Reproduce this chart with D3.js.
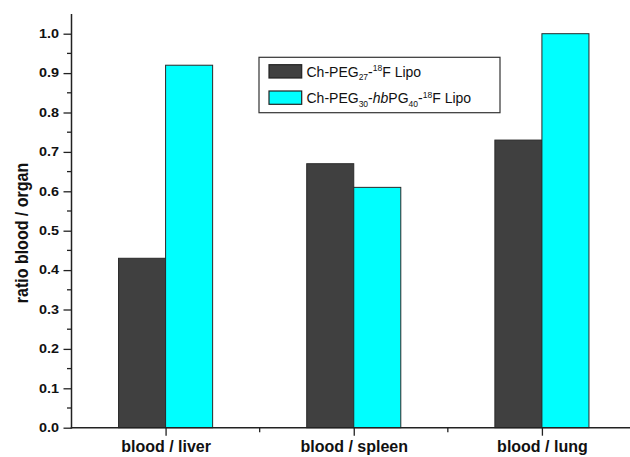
<!DOCTYPE html>
<html>
<head>
<meta charset="utf-8">
<script src="https://cdn.jsdelivr.net/npm/d3@7"></script>
<style>
  html, body { margin: 0; padding: 0; background: #fff; }
  svg { display: block; font-family: "Liberation Sans", Arial, sans-serif; }
</style>
</head>
<body>
<svg id="chart" width="630" height="457"></svg>
<script>
// Blood-to-organ ratios for the two liposome formulations
const categories = ["blood / liver", "blood / spleen", "blood / lung"];
const pegValues = [0.43, 0.67, 0.73];
const hbpgValues = [0.92, 0.61, 1.00];
const yTickValues = [0.0, 0.1, 0.2, 0.3, 0.4, 0.5, 0.6, 0.7, 0.8, 0.9, 1.0];
const yMinorValues = d3.range(0.05, 1.05, 0.1);
const xMinorValues = [1.5, 2.5];

const svg = d3.select("#chart");
const left = 71.5, bottom = 427.7;

// Categories sit at 1, 2, 3 on a linear axis from 0.5 to 3.5
const x = d3.scaleLinear().domain([0.5, 3.5]).range([left, 636]);
const y = d3.scaleLinear().domain([0, 1.05]).range([bottom, 14]);
const barW = 0.25;

const axisColor = "#222";
const seriesList = [
  { values: pegValues, fill: "#404040", offset: -barW },
  { values: hbpgValues, fill: "#00ffff", offset: 0 }
];

// Bars
seriesList.forEach(s => {
  svg.append("g").selectAll("rect")
    .data(s.values)
    .join("rect")
    .attr("x", (d, i) => x(i + 1 + s.offset))
    .attr("y", d => y(d))
    .attr("width", x(1 + barW) - x(1))
    .attr("height", d => y(0) - y(d))
    .attr("fill", s.fill)
    .attr("stroke", "#2a2a2a")
    .attr("stroke-width", 1);
});

// Y axis with major and minor ticks
const yAxis = svg.append("g").attr("transform", `translate(${left},0)`);
yAxis.call(d3.axisLeft(y).tickValues(yTickValues).tickSize(8).tickSizeOuter(0).tickFormat(d3.format(".1f")));
yAxis.select(".domain").remove();
yAxis.append("line").attr("x1", 0).attr("x2", 0).attr("y1", y(1.05)).attr("y2", bottom + 0.75)
  .attr("stroke", axisColor).attr("stroke-width", 1.5);
yAxis.selectAll(".tick line").attr("stroke", axisColor).attr("stroke-width", 1.3);
yAxis.selectAll(".tick text").remove();
yAxis.selectAll(".minor").data(yMinorValues).join("line")
  .attr("class", "minor")
  .attr("x1", 0).attr("x2", -4.5)
  .attr("y1", d => y(d)).attr("y2", d => y(d))
  .attr("stroke", axisColor).attr("stroke-width", 1.3);

// Y tick labels, slightly wide bold face
svg.append("g").selectAll("text")
  .data(yTickValues)
  .join("text")
  .attr("transform", d => `translate(59,${y(d) + 4.3}) scale(1.2,1)`)
  .attr("text-anchor", "end")
  .attr("font-size", 12)
  .attr("font-weight", "bold")
  .attr("fill", "#111")
  .text(d3.format(".1f"));

// X axis with major ticks at categories and minor ticks between them
const xAxis = svg.append("g").attr("transform", `translate(0,${bottom})`);
xAxis.call(d3.axisBottom(x).tickValues([1, 2, 3]).tickSize(8).tickSizeOuter(0).tickFormat((d, i) => categories[i]));
xAxis.select(".domain").remove();
xAxis.append("line").attr("x1", left - 0.75).attr("x2", 636).attr("y1", 0).attr("y2", 0)
  .attr("stroke", axisColor).attr("stroke-width", 1.5);
xAxis.selectAll(".tick line").attr("stroke", axisColor).attr("stroke-width", 1.3);
xAxis.selectAll(".tick text")
  .attr("y", 24.5).attr("dy", 0)
  .attr("font-size", 16).attr("font-weight", "bold").attr("fill", "#111")
  .attr("font-family", "'Liberation Sans', Arial, sans-serif");
xAxis.selectAll(".minor").data(xMinorValues).join("line")
  .attr("class", "minor")
  .attr("x1", d => x(d)).attr("x2", d => x(d))
  .attr("y1", 0).attr("y2", 4.5)
  .attr("stroke", axisColor).attr("stroke-width", 1.3);

// Y axis title
svg.append("text")
  .attr("transform", "translate(28,233) rotate(-90) scale(1,1.15)")
  .attr("text-anchor", "middle")
  .attr("font-size", 16)
  .attr("font-weight", "bold")
  .attr("fill", "#111")
  .text("ratio blood / organ");

// Legend
const legend = svg.append("g");
legend.append("rect")
  .attr("x", 259).attr("y", 57.3).attr("width", 241).attr("height", 55.4)
  .attr("fill", "#fff").attr("stroke", "#333").attr("stroke-width", 1.2);

const legendRows = [
  { fill: "#404040", y: 64.7, parts: [["Ch-PEG", 0], ["27", 1], ["-", 0], ["18", -1], ["F Lipo", 0]] },
  { fill: "#00ffff", y: 91, parts: [["Ch-PEG", 0], ["30", 1], ["-", 0], ["hb", 0, "italic"], ["PG", 0], ["40", 1], ["-", 0], ["18", -1], ["F Lipo", 0]] }
];

legendRows.forEach(row => {
  legend.append("rect")
    .attr("x", 269).attr("y", row.y).attr("width", 32.7).attr("height", 13.3)
    .attr("fill", row.fill).attr("stroke", "#222").attr("stroke-width", 1.2);
  const t = legend.append("text")
    .attr("x", 306.5).attr("y", row.y + 12.2)
    .attr("font-size", 14).attr("fill", "#111");
  let shift = 0;
  row.parts.forEach(([str, pos, style]) => {
    const target = pos === 1 ? 3.5 : pos === -1 ? -5.5 : 0;
    const ts = t.append("tspan").text(str).attr("dy", target - shift);
    if (pos !== 0) ts.attr("font-size", 8.5);
    if (style) ts.attr("font-style", style);
    shift = target;
  });
});
</script>
</body>
</html>
